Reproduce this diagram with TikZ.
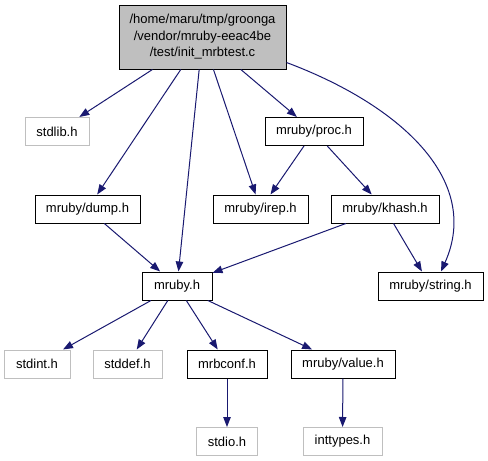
\documentclass[tikz,border=0pt]{standalone}
\usepackage{fontspec}
\setmainfont{Liberation Sans}
\usetikzlibrary{arrows.meta,calc}
\definecolor{edgeblue}{HTML}{191970}
\definecolor{sysgray}{HTML}{BFBFBF}
\begin{document}
\begin{tikzpicture}[x=1pt,y=-1pt,
  box/.style={draw=black,line width=1pt,minimum height=28pt,inner sep=0pt,
    font=\fontsize{13}{16.5}\selectfont},
  sysbox/.style={box,draw=sysgray},
  dep/.style={draw=edgeblue,line width=1pt,-{Triangle[length=10pt,width=7.5pt]}}]
\useasboundingbox (0,0) rectangle (488,461);
\node[box,fill=sysgray,minimum width=167pt,minimum height=64pt,align=center] (top) at (202.5,37)
  {/home/maru/tmp/groonga\\/vendor/mruby-eeac4be\\/test/init\_mrbtest.c};
\node[sysbox,minimum width=64pt] (stdlib) at (57,131.5) {stdlib.h};
\node[box,minimum width=98pt] (proc) at (314,131.5) {mruby/proc.h};
\node[box,minimum width=105pt] (dump) at (87.5,209) {mruby/dump.h};
\node[box,minimum width=95pt] (irep) at (260.5,209) {mruby/irep.h};
\node[box,minimum width=108pt] (khash) at (385,209) {mruby/khash.h};
\node[box,minimum width=70pt] (mruby) at (177,286) {mruby.h};
\node[box,minimum width=105pt] (string) at (430.5,286) {mruby/string.h};
\node[sysbox,minimum width=66pt] (stdint) at (37,364) {stdint.h};
\node[sysbox,minimum width=69pt] (stddef) at (127.5,364) {stddef.h};
\node[box,minimum width=80pt] (mrbconf) at (227,364) {mrbconf.h};
\node[box,minimum width=104pt] (value) at (343,364) {mruby/value.h};
\node[sysbox,minimum width=61pt] (stdio) at (227,441.5) {stdio.h};
\node[sysbox,minimum width=79pt] (inttypes) at (342.5,441.5) {inttypes.h};

\draw[dep] (top) -- (stdlib);
\draw[dep] (top) -- (dump);
\draw[dep] (top) -- (mruby);
\draw[dep] (top) -- (irep);
\draw[dep] (top) -- (proc);
\draw[dep] ($(top.south east)+(0,-7)$) .. controls (400,105) and (482,180) .. ($(string.north)+(10.5,0)$);
\draw[dep] (proc) -- (irep);
\draw[dep] (proc) -- (khash);
\draw[dep] (dump) -- (mruby);
\draw[dep] (khash) -- (mruby);
\draw[dep] (khash) -- (string);
\draw[dep] (mruby) -- (stdint);
\draw[dep] (mruby) -- (stddef);
\draw[dep] (mruby) -- (mrbconf);
\draw[dep] (mruby) -- (value);
\draw[dep] (mrbconf) -- (stdio);
\draw[dep] (value) -- (inttypes);
\end{tikzpicture}
\end{document}
